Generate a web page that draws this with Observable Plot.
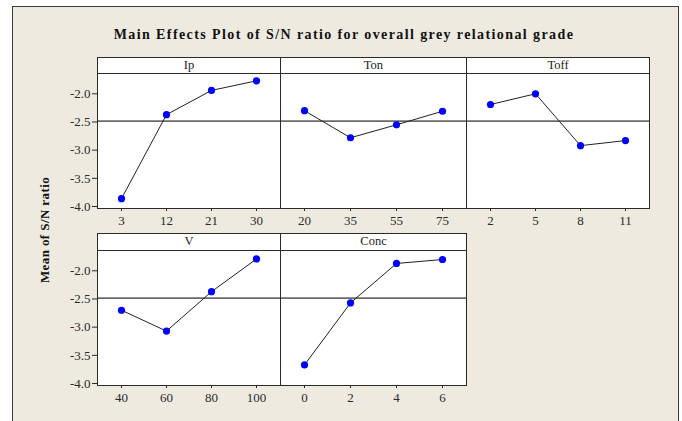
<!DOCTYPE html>
<html><head><meta charset="utf-8">
<script src="https://cdn.jsdelivr.net/npm/d3@7"></script>
<script src="https://cdn.jsdelivr.net/npm/@observablehq/plot@0.6"></script>
<style>
body{margin:0;background:#fff;}
#root{position:relative;width:682px;height:421px;overflow:hidden;background:#fff;}
#frame{position:absolute;left:12px;top:6px;width:667px;height:430px;border:1px solid #3a3a3a;box-sizing:border-box;background:#eeeae0;}
.hdr{position:absolute;box-sizing:border-box;border:1px solid #2a2a2a;background:#fff;text-align:center;font:12.5px "Liberation Serif",serif;color:#222;line-height:14px;}
#title{position:absolute;left:0;width:682px;top:27px;text-align:center;font:bold 14px "Liberation Serif",serif;letter-spacing:1.4px;color:#111;padding-left:6px;box-sizing:border-box;}
#ylab{position:absolute;width:200px;left:-55px;top:222px;text-align:center;transform:rotate(-90deg);font:bold 13px "Liberation Serif",serif;color:#111;letter-spacing:0.4px;}
.pl{position:absolute;}
</style>
</head><body>
<div id="root"><div id="frame"></div>
<div id="title">Main Effects Plot of S/N ratio for overall grey relational grade</div>
<div id="ylab">Mean of S/N ratio</div>
</div>
<script>
// ---- data ----
const factorNames = ["Ip","Ton","Toff","V","Conc"];
const ipLevels = ["3","12","21","30"];
const ipMeans = [-3.86,-2.37,-1.94,-1.77];
const tonLevels = ["20","35","55","75"];
const tonMeans = [-2.30,-2.78,-2.55,-2.31];
const toffLevels = ["2","5","8","11"];
const toffMeans = [-2.19,-2.00,-2.92,-2.83];
const vLevels = ["40","60","80","100"];
const vMeans = [-2.70,-3.07,-2.37,-1.79];
const concLevels = ["0","2","4","6"];
const concMeans = [-3.67,-2.57,-1.87,-1.80];
const overallMean = -2.485;
const yTicks = [-2.0,-2.5,-3.0,-3.5,-4.0];
const yDomain = [-4.035,-1.64];

const root = document.getElementById("root");
const cols = [97,280,466,649];
const rows = [{hTop:57,pTop:73,pBot:208},{hTop:233,pTop:250,pBot:385}];
const panels = [
  {name:factorNames[0], levels:ipLevels, means:ipMeans, c:0, r:0},
  {name:factorNames[1], levels:tonLevels, means:tonMeans, c:1, r:0},
  {name:factorNames[2], levels:toffLevels, means:toffMeans, c:2, r:0},
  {name:factorNames[3], levels:vLevels, means:vMeans, c:0, r:1},
  {name:factorNames[4], levels:concLevels, means:concMeans, c:1, r:1}
];
const font = '"Liberation Serif", serif';
for (const p of panels) {
  const row = rows[p.r];
  const left = cols[p.c], right = cols[p.c+1];
  const showY = p.c === 0;
  const ml = showY ? 60 : 2, mr = 2, mt = 2, mb = 28;
  const w = right - left, h = row.pBot - row.pTop;
  const data = p.levels.map((l,i)=>({level:l, mean:p.means[i]}));
  const marks = [
    Plot.frame({fill:"white", stroke:null}),
    Plot.ruleY([overallMean], {stroke:"#6a6a6a", strokeWidth:1.6}),
    Plot.line(data, {x:"level", y:"mean", stroke:"#222", strokeWidth:1}),
    Plot.dot(data, {x:"level", y:"mean", r:3.6, fill:"#0000ff", stroke:null}),
    Plot.frame({stroke:"#2a2a2a", strokeWidth:1}),
    Plot.axisX({tickSize:3, tickPadding:4, fontSize:13, fontFamily:font, fill:"#2a2a2a", label:null})
  ];
  if (showY) marks.push(Plot.axisY(yTicks, {tickSize:5, tickPadding:2, fontSize:13, fontFamily:font, fill:"#2a2a2a", tickFormat:d=>d.toFixed(1), label:null}));
  const chart = Plot.plot({
    width: w + ml + mr, height: h + mt + mb,
    marginLeft: ml, marginRight: mr, marginTop: mt, marginBottom: mb,
    style: {background:"transparent", fontFamily: font, fontSize:"13px", color:"#2a2a2a"},
    x: {type:"point", domain:p.levels, padding:0.49},
    y: showY ? {domain:yDomain} : {domain:yDomain, axis:null},
    marks
  });
  chart.classList.add("pl");
  chart.style.left = (left - ml) + "px";
  chart.style.top = (row.pTop - mt) + "px";
  root.appendChild(chart);
  const hd = document.createElement("div");
  hd.className = "hdr";
  hd.textContent = p.name;
  hd.style.left = left + "px";
  hd.style.top = row.hTop + "px";
  hd.style.width = (w + 1) + "px";
  hd.style.height = (row.pTop - row.hTop + 1) + "px";
  root.appendChild(hd);
}
</script>
</body></html>
